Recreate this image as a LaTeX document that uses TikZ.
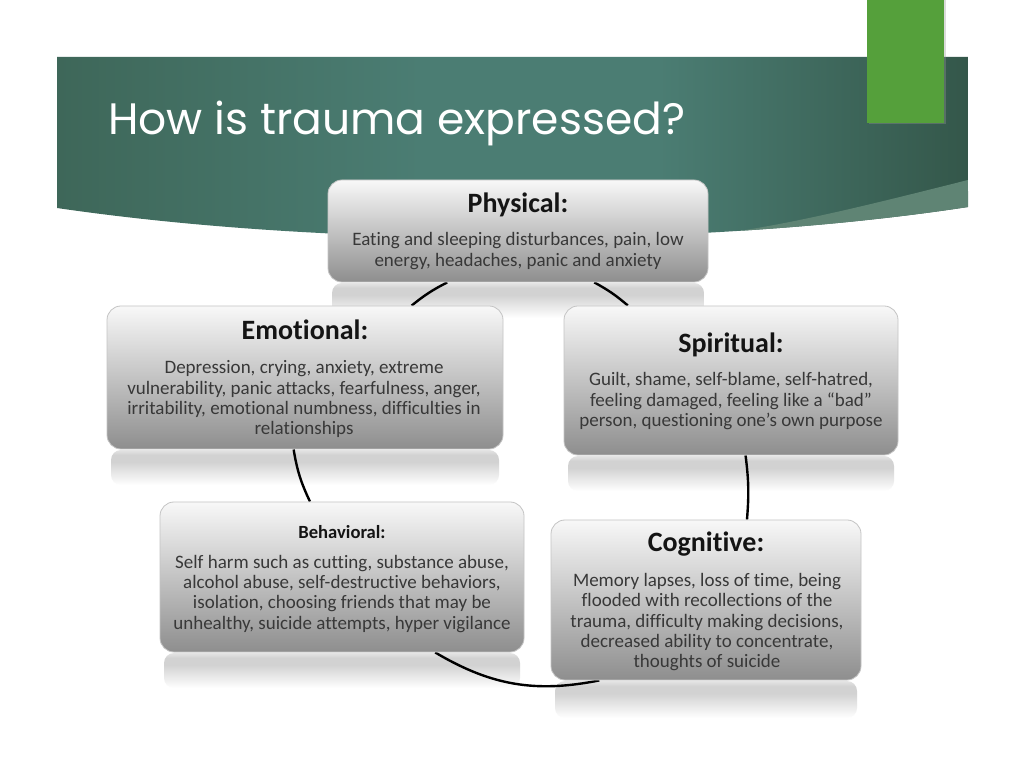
\documentclass[tikz,border=0pt]{standalone}
\usepackage{fontspec}
\setmainfont{Carlito}[Ligatures=NoCommon]
\newfontfamily\titlefont{Poppins}
\pgfdeclarelayer{bg}
\pgfdeclarelayer{mid}
\pgfsetlayers{bg,mid,main}
\definecolor{bandL}{HTML}{3E6759}
\definecolor{bandM}{HTML}{4B7D73}
\definecolor{bandR}{HTML}{34574A}
\definecolor{wedgec}{HTML}{5F8474}
\definecolor{accent}{HTML}{55A03B}
\definecolor{boxtop}{HTML}{F8F8F8}
\definecolor{boxmid}{HTML}{D9D9D9}
\definecolor{boxbot}{HTML}{8E8E8E}
\definecolor{boxline}{HTML}{C4C4C4}
\definecolor{txt}{HTML}{383838}
\definecolor{hdc}{HTML}{141414}
\definecolor{refl}{HTML}{D2D2D2}
\pgfdeclareverticalshading{reflsh}{100bp}{color(0bp)=(white); color(25bp)=(white); color(58bp)=(refl); color(68bp)=(refl); color(75bp)=(refl!60!white); color(100bp)=(refl!60!white)}
\pgfdeclarehorizontalshading{bandsh}{100bp}{color(0bp)=(bandL); color(25bp)=(bandL); color(45bp)=(bandM); color(58bp)=(bandM); color(75bp)=(bandR); color(100bp)=(bandR)}
\tikzset{
  card/.style={rectangle, rounded corners=14pt, draw=boxline, line width=0.8pt,
    top color=boxtop, middle color=boxmid, bottom color=boxbot, inner sep=0pt},
  head/.style={anchor=base, inner sep=0pt, text=hdc, font=\fontsize{28}{30}\selectfont\bfseries},
  smallhead/.style={anchor=base, inner sep=0pt, text=hdc, font=\fontsize{18.6}{20}\selectfont\bfseries},
  body/.style={anchor=base, inner sep=0pt, text=txt, font=\fontsize{19}{20.3}\selectfont},
  conn/.style={line width=2.4pt, draw=black},
  reflbox/.style={shading=reflsh, rounded corners=10pt}
}
\begin{document}
\begin{tikzpicture}[x=1pt,y=1pt]
\useasboundingbox (0,0) rectangle (1024,768);
\begin{pgfonlayer}{bg}
  \fill[white] (0,0) rectangle (1024,768);
  % title band
  \shade[shading=bandsh]
    (57,711) -- (968,711) -- (968,561) .. controls (700,520) and (330,520) .. (57,560) -- cycle;
  \begin{scope}
    \clip (57,711) -- (968,711) -- (968,561) .. controls (700,520) and (330,520) .. (57,560) -- cycle;
    \fill[wedgec] (968,588) .. controls (880,566) and (780,540) .. (700,532) -- (700,450) -- (980,450) -- cycle;
  \end{scope}
  % accent rectangle
  \fill[black!40, opacity=0.35] (868.5,643.5) rectangle (945.5,768);
  \fill[accent] (867,645) rectangle (944,768);
  \node[anchor=base west, inner sep=0pt, text=white, font=\titlefont\fontsize{44}{50}\selectfont] (title) at (108,633) {How is trauma expressed?};
  % reflections
  \shade[reflbox] (332,485) rectangle (704,450);
  \shade[reflbox] (111,318) rectangle (499,283);
  \shade[reflbox] (568,312) rectangle (894,277);
  \shade[reflbox] (164,115) rectangle (520,80);
  \shade[reflbox] (555,87) rectangle (857,50);
\end{pgfonlayer}

% boxes
\node[card, minimum width=380pt, minimum height=102pt] (phys) at (518,537) {};
\node[card, minimum width=396pt, minimum height=143pt] (emo) at (305,390.5) {};
\node[card, minimum width=334pt, minimum height=149pt] (spir) at (731,387.5) {};
\node[card, minimum width=364pt, minimum height=150pt] (beh) at (342,191) {};
\node[card, minimum width=310pt, minimum height=160pt] (cog) at (706,168) {};

% texts
\node[head] (physH) at (518,555.3) {Physical:};
\node[body] (physT) at (518,522) {\begin{tabular}[t]{@{}c@{}}Eating and sleeping disturbances, pain, low\\ energy, headaches, panic and anxiety\end{tabular}};

\node[head] (emoH) at (305,428) {Emotional:};
\node[body] (emoT) at (304,394) {\begin{tabular}[t]{@{}c@{}}Depression, crying, anxiety, extreme\\ vulnerability, panic attacks, fearfulness, anger,\\ irritability, emotional numbness, difficulties in\\ relationships\end{tabular}};

\node[head] (spirH) at (731,415.7) {Spiritual:};
\node[body] (spirT) at (731,382) {\begin{tabular}[t]{@{}c@{}}Guilt, shame, self-blame, self-hatred,\\ feeling damaged, feeling like a “bad”\\ person, questioning one’s own purpose\end{tabular}};

\node[smallhead] (behH) at (342,229.3) {Behavioral:};
\node[body] (behT) at (342,199.7) {\begin{tabular}[t]{@{}c@{}}Self harm such as cutting, substance abuse,\\ alcohol abuse, self-destructive behaviors,\\ isolation, choosing friends that may be\\ unhealthy, suicide attempts, hyper vigilance\end{tabular}};

\node[head] (cogH) at (706,216.3) {Cognitive:};
\node[body] (cogT) at (707,181.3) {\begin{tabular}[t]{@{}c@{}}Memory lapses, loss of time, being\\ flooded with recollections of the\\ trauma, difficulty making decisions,\\ decreased ability to concentrate,\\ thoughts of suicide\end{tabular}};

% connectors
\begin{pgfonlayer}{mid}
  \draw[conn] (phys.-144.5) to[bend right=6] (emo.34.6);
  \draw[conn] (emo.-99.5) to[bend right=8] (beh.113.1);
  \draw[conn] (beh.-39.8) to[bend right=21] (cog.-143);
  \draw[conn] (cog.63.4) to[bend right=6] (spir.-79.4);
  \draw[conn] (spir.144.9) to[bend right=6] (phys.-34.2);
\end{pgfonlayer}
\end{tikzpicture}
\end{document}
